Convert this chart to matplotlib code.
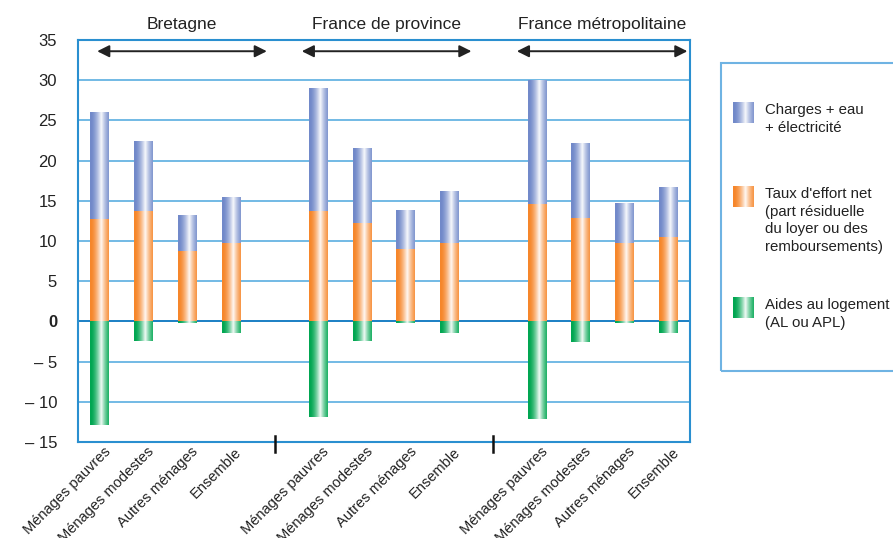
import numpy as np
import matplotlib
matplotlib.use("Agg")
import matplotlib.pyplot as plt
from matplotlib.colors import to_rgb
from matplotlib.patches import Rectangle

plt.rcParams['font.family'] = ['Liberation Sans', 'DejaVu Sans']

groups = ["Bretagne", "France de province", "France métropolitaine"]
categories = ["Ménages pauvres", "Ménages modestes", "Autres ménages", "Ensemble"]

# Taux d'effort net (orange), per group
taux_effort = [[12.7, 13.7, 8.75, 9.75],
               [13.7, 12.2, 9.0, 9.75],
               [14.65, 12.9, 9.75, 10.5]]
# Charges + eau + électricité (blue, stacked above orange)
charges = [[13.3, 8.6, 4.45, 5.6],
           [15.2, 9.25, 4.85, 6.45],
           [15.35, 9.3, 4.95, 6.2]]
# Aides au logement (green, negative)
aides = [[-12.85, -2.4, -0.15, -1.4],
         [-11.85, -2.4, -0.15, -1.4],
         [-12.1, -2.5, -0.15, -1.4]]

yticks = [35, 30, 25, 20, 15, 10, 5, 0, -5, -10, -15]
ytick_labels = ["35", "30", "25", "20", "15", "10", "5", "0", "– 5", "– 10", "– 15"]

legend_labels = ["Charges + eau\n+ électricité",
                 "Taux d'effort net\n(part résiduelle\ndu loyer ou des\nremboursements)",
                 "Aides au logement\n(AL ou APL)"]

c_blue = "#7189c9"
c_orange = "#f6862a"
c_green = "#00a651"
grid_c = "#5aaee0"
frame_c = "#2a8fd0"


def gradient(color, n=64):
    c = np.array(to_rgb(color))
    t = np.linspace(0, 1, n)
    w = np.clip(1 - np.abs(t - 0.6) / 0.55, 0, 1) ** 1.6 * 0.95
    img = c[None, :] * (1 - w[:, None]) + w[:, None]
    return img[None, :, :]


fig = plt.figure(figsize=(8.93, 5.38), dpi=100)
ax = fig.add_axes([0.0873, 0.1784, 0.6854, 0.7473])

positions = []
labels = []
for g in range(3):
    for i in range(4):
        positions.append(g * 5 + i)
        labels.append(categories[i])
positions = np.array(positions)
orange_vals = np.array(taux_effort).ravel()
blue_vals = np.array(charges).ravel()
green_vals = np.array(aides).ravel()

width = 0.43
for vals, bottom, col in [(orange_vals, 0, c_orange),
                          (blue_vals, orange_vals, c_blue),
                          (green_vals, 0, c_green)]:
    bars = ax.bar(positions, vals, width, bottom=bottom, color='none',
                  edgecolor='none', zorder=3)
    for p in bars:
        x0, y0, w, h = p.get_x(), p.get_y(), p.get_width(), p.get_height()
        ax.imshow(gradient(col), extent=[x0, x0 + w, y0, y0 + h],
                  aspect='auto', zorder=3, interpolation='bilinear')

for y in yticks:
    if y in (35, -15):
        continue
    ax.axhline(y, color=("#1a7fc4" if y == 0 else grid_c),
               lw=(1.4 if y == 0 else 1.2), zorder=1)

ax.set_xlim(-0.5, 13.5)
ax.set_ylim(-15, 35)
ax.set_yticks(yticks)
ax.set_yticklabels(ytick_labels, fontsize=12, color="#222222")
for lab in ax.get_yticklabels():
    if lab.get_text() == "0":
        lab.set_fontweight("bold")
ax.tick_params(axis='y', length=0, pad=15)
ax.set_xticks(positions + 0.08)
ax.set_xticklabels(labels, rotation=45, ha='right', va='top',
                   rotation_mode='anchor', fontsize=10.5, color="#222222")
ax.tick_params(axis='x', length=0, pad=2)
for s in ax.spines.values():
    s.set_color(frame_c)
    s.set_linewidth(1.5)

# separators
for xs in (4, 9):
    ax.plot([xs, xs], [-16.3, -14.3], color="#111111", lw=1.8,
            clip_on=False, zorder=5)

# group titles and arrows
title_x = [1.88, 6.56, 11.5]
arrow_span = [(-0.06, 3.82), (4.62, 8.5), (9.54, 13.44)]
for g in range(3):
    ax.text(title_x[g], 36.9, groups[g], ha='center', va='center',
            fontsize=12.5, color="#222222")
    a, b = arrow_span[g]
    ax.annotate("", xy=(a, 33.6), xytext=(b, 33.6),
                arrowprops=dict(arrowstyle="<|-|>", color="#222222", lw=1.4,
                                mutation_scale=18, shrinkA=0, shrinkB=0))

# legend box
lax = fig.add_axes([0.8074, 0.311, 0.25, 0.5725])
lax.set_xlim(0, 1)
lax.set_ylim(0, 1)
lax.axis('off')
lax.add_patch(Rectangle((0, 0), 1, 1, fill=False, edgecolor="#6fb3e3",
                        lw=1.5, transform=lax.transAxes, clip_on=False))
H = 308.0  # box height in px (for placement)
sw_y = [113 - 62.7, 196.7 - 62.7, 308 - 62.7]
cols = [c_blue, c_orange, c_green]
for k in range(3):
    ytop = 1 - (sw_y[k] - 10) / H
    ybot = 1 - (sw_y[k] + 10) / H
    x0 = (732.7 - 721) / 223.0
    x1 = (752.7 - 721) / 223.0
    lax.imshow(gradient(cols[k]), extent=[x0, x1, ybot, ytop], aspect='auto',
               interpolation='bilinear')
    lax.text((765 - 721) / 223.0, 1 - (sw_y[k] - 10) / H, legend_labels[k],
             ha='left', va='top', fontsize=10.8, linespacing=1.35,
             color="#222222")
lax.set_xlim(0, 1)
lax.set_ylim(0, 1)

fig.savefig("out.png", dpi=100)
